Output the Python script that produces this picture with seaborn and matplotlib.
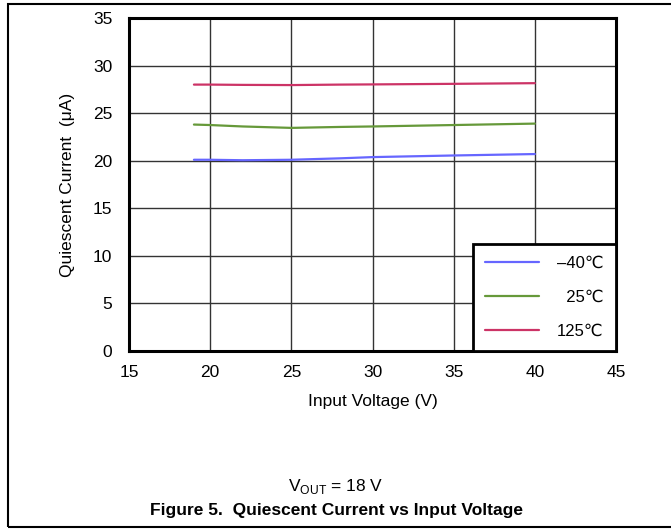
import numpy as np
import pandas as pd
import seaborn as sns
import matplotlib.pyplot as plt
from matplotlib.patches import Rectangle

# data
vin = [19, 20, 22, 25, 28, 30, 35, 40]
iq_m40 = [20.1, 20.1, 20.05, 20.1, 20.25, 20.38, 20.55, 20.7]
iq_25 = [23.8, 23.75, 23.6, 23.45, 23.55, 23.6, 23.75, 23.9]
iq_125 = [28.0, 28.0, 27.97, 27.95, 28.0, 28.02, 28.08, 28.15]
temps = ['\u201340\u2103', '\u200725\u2103', '125\u2103']
colors = ['#6666ff', '#66993a', '#cc3366']

xticks = [15, 20, 25, 30, 35, 40, 45]
yticks = [0, 5, 10, 15, 20, 25, 30, 35]

df = pd.DataFrame({
    'vin': vin * 3,
    'iq': iq_m40 + iq_25 + iq_125,
    'temp': [temps[0]] * len(vin) + [temps[1]] * len(vin) + [temps[2]] * len(vin),
})

sns.set_style('white')
plt.rcParams['font.family'] = ['Liberation Sans', 'DejaVu Sans']
plt.rcParams['mathtext.fontset'] = 'custom'
plt.rcParams['mathtext.rm'] = 'Liberation Sans'
plt.rcParams['text.color'] = 'black'
plt.rcParams['axes.labelcolor'] = 'black'

fig = plt.figure(figsize=(6.71, 5.29), dpi=100)
ax = fig.add_axes([129 / 671, 1 - 351 / 529, (616 - 129) / 671, (351 - 18) / 529])

sns.lineplot(data=df, x='vin', y='iq', hue='temp', hue_order=temps,
             palette=colors, linewidth=1.6, ax=ax, zorder=3)

ax.set_xlim(15, 45)
ax.set_ylim(0, 35)
ax.set_xticks(xticks)
ax.set_yticks(yticks)
ax.tick_params(axis='both', length=0, labelsize=12.5, colors='black')
ax.tick_params(axis='y', pad=12)
ax.tick_params(axis='x', pad=10)
ax.grid(True, color='#333333', linewidth=1)
for s in ax.spines.values():
    s.set_color('black')
    s.set_linewidth(2.2)
    s.set_zorder(5)

ax.set_xlabel('Input Voltage (V)', fontsize=12.5, labelpad=10)
ax.set_ylabel('Quiescent Current  (\u03bcA)', fontsize=12.5, labelpad=13)

leg = ax.legend(loc='lower right', borderaxespad=0, fancybox=False,
                fontsize=12, handlelength=3.2, labelspacing=1.12,
                handletextpad=1.1, borderpad=0.75, framealpha=1)
leg.get_frame().set_edgecolor('black')
leg.get_frame().set_linewidth(2)
leg.set_zorder(6)

fig.text(336 / 671, 1 - 487 / 529, r'V$_{\mathrm{OUT}}$ = 18 V', fontsize=12.5,
         ha='center', va='center', color='black')
fig.text(336 / 671, 1 - 510 / 529, 'Figure 5.  Quiescent Current vs Input Voltage',
         fontsize=12.5, fontweight='bold', ha='center', va='center', color='black')

# outer frame of the datasheet figure
fig.add_artist(Rectangle((8 / 671, 2 / 529), 1.0, 1 - 6 / 529,
                         transform=fig.transFigure, fill=False,
                         edgecolor='black', linewidth=1.5))

fig.savefig('out.png', dpi=100)
